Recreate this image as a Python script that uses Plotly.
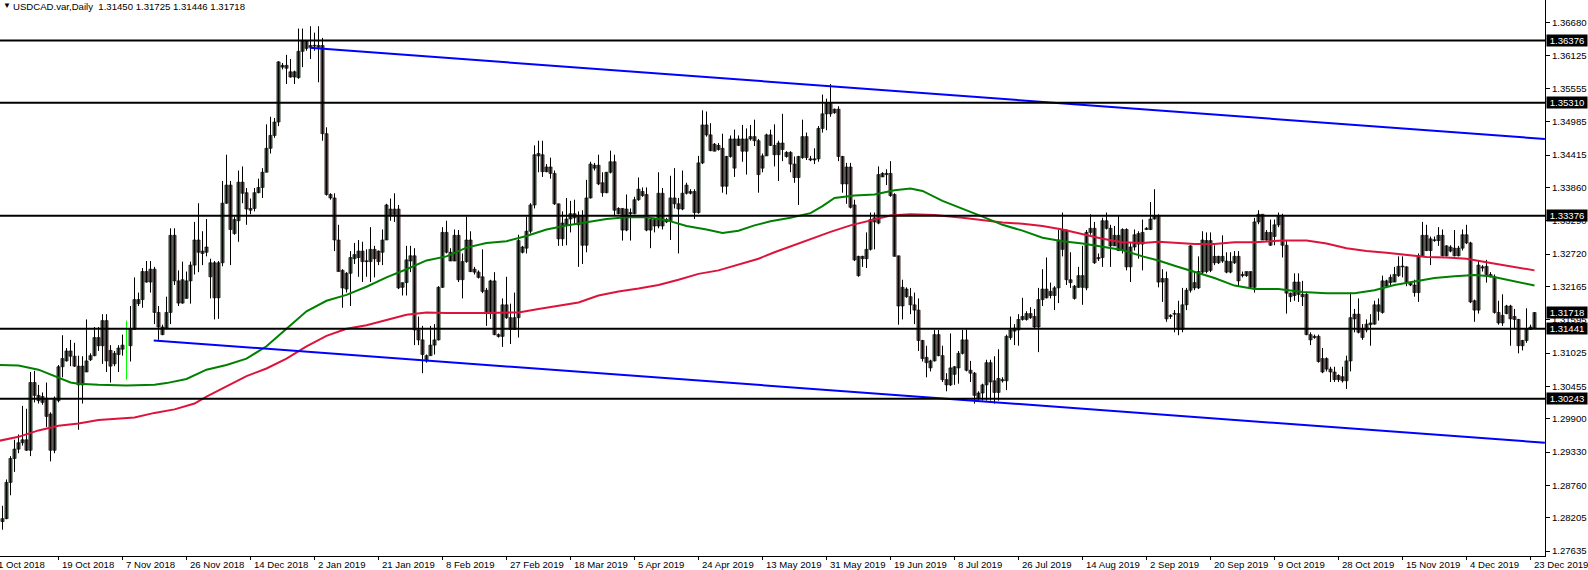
import plotly.graph_objects as go

# ---------------- data ----------------
symbol_title = "USDCAD.var,Daily  1.31450 1.31725 1.31446 1.31718"

date_labels = ["1 Oct 2018", "19 Oct 2018", "7 Nov 2018", "26 Nov 2018", "14 Dec 2018",
               "2 Jan 2019", "21 Jan 2019", "8 Feb 2019", "27 Feb 2019", "18 Mar 2019",
               "5 Apr 2019", "24 Apr 2019", "13 May 2019", "31 May 2019", "19 Jun 2019",
               "8 Jul 2019", "26 Jul 2019", "14 Aug 2019", "2 Sep 2019", "20 Sep 2019",
               "9 Oct 2019", "28 Oct 2019", "15 Nov 2019", "4 Dec 2019", "23 Dec 2019"]
bars_per_label = 16

open_ = [1.2814, 1.2819, 1.2881, 1.2922, 1.2938, 1.2949, 1.2954, 1.2936, 1.3052, 1.3030,
 1.3018, 1.3025, 1.2998, 1.2936, 1.3021, 1.3079, 1.3089, 1.3106, 1.3097, 1.3080,
 1.3048, 1.3070, 1.3091, 1.3098, 1.3129, 1.3115, 1.3158, 1.3107, 1.3084, 1.3100,
 1.3109, 1.3116, 1.3115, 1.3143, 1.3187, 1.3194, 1.3242, 1.3224, 1.3246, 1.3172,
 1.3134, 1.3145, 1.3172, 1.3304, 1.3226, 1.3188, 1.3196, 1.3226, 1.3253, 1.3296,
 1.3277, 1.3275, 1.3233, 1.3257, 1.3197, 1.3257, 1.3359, 1.3390, 1.3307, 1.3329,
 1.3395, 1.3377, 1.3350, 1.3350, 1.3377, 1.3386, 1.3412, 1.3453, 1.3475, 1.3498,
 1.3592, 1.3595, 1.3584, 1.3575, 1.3574, 1.3619, 1.3637, 1.3626, 1.3628, 1.3629,
 1.3629, 1.3478, 1.3374, 1.3368, 1.3296, 1.3244, 1.3212, 1.3239, 1.3264, 1.3266,
 1.3277, 1.3259, 1.3259, 1.3280, 1.3277, 1.3275, 1.3296, 1.3349, 1.3349, 1.3349,
 1.3215, 1.3223, 1.3260, 1.3269, 1.3142, 1.3125, 1.3089, 1.3098, 1.3116, 1.3125,
 1.3215, 1.3309, 1.3275, 1.3260, 1.3304, 1.3228, 1.3259, 1.3296, 1.3246, 1.3241,
 1.3233, 1.3210, 1.3170, 1.3226, 1.3134, 1.3131, 1.3185, 1.3163, 1.3143, 1.3163,
 1.3275, 1.3282, 1.3311, 1.3356, 1.3444, 1.3442, 1.3413, 1.3421, 1.3410, 1.3358,
 1.3298, 1.3322, 1.3332, 1.3341, 1.3338, 1.3338, 1.3287, 1.3368, 1.3419, 1.3424,
 1.3394, 1.3377, 1.3412, 1.3430, 1.3341, 1.3350, 1.3313, 1.3341, 1.3341, 1.3365,
 1.3379, 1.3374, 1.3313, 1.3331, 1.3320, 1.3376, 1.3327, 1.3329, 1.3368, 1.3358,
 1.3349, 1.3376, 1.3376, 1.3379, 1.3343, 1.3428, 1.3493, 1.3476, 1.3448, 1.3458,
 1.3453, 1.3388, 1.3439, 1.3469, 1.3458, 1.3469, 1.3448, 1.3473, 1.3473, 1.3466,
 1.3419, 1.3440, 1.3476, 1.3458, 1.3442, 1.3462, 1.3439, 1.3446, 1.3426, 1.3403,
 1.3437, 1.3473, 1.3433, 1.3433, 1.3435, 1.3487, 1.3512, 1.3530, 1.3514, 1.3520,
 1.3439, 1.3392, 1.3421, 1.3356, 1.3235, 1.3268, 1.3264, 1.3280, 1.3327, 1.3325,
 1.3404, 1.3408, 1.3410, 1.3374, 1.3269, 1.3183, 1.3212, 1.3199, 1.3185, 1.3176,
 1.3124, 1.3095, 1.3077, 1.3089, 1.3134, 1.3098, 1.3057, 1.3048, 1.3066, 1.3077,
 1.3102, 1.3125, 1.3073, 1.3068, 1.3025, 1.3034, 1.3048, 1.3086, 1.3055, 1.3035,
 1.3055, 1.3055, 1.3129, 1.3140, 1.3142, 1.3160, 1.3160, 1.3170, 1.3165, 1.3147,
 1.3194, 1.3212, 1.3201, 1.3201, 1.3214, 1.3280, 1.3313, 1.3228, 1.3196, 1.3215,
 1.3215, 1.3214, 1.3309, 1.3316, 1.3264, 1.3266, 1.3329, 1.3316, 1.3286, 1.3304,
 1.3278, 1.3314, 1.3250, 1.3284, 1.3307, 1.3289, 1.3314, 1.3314, 1.3332, 1.3338,
 1.3224, 1.3230, 1.3165, 1.3170, 1.3170, 1.3143, 1.3185, 1.3210, 1.3214, 1.3214,
 1.3241, 1.3242, 1.3295, 1.3268, 1.3257, 1.3260, 1.3260, 1.3241, 1.3257, 1.3268,
 1.3235, 1.3235, 1.3242, 1.3215, 1.3327, 1.3340, 1.3296, 1.3309, 1.3302, 1.3322,
 1.3336, 1.3287, 1.3205, 1.3201, 1.3224, 1.3203, 1.3203, 1.3134, 1.3129, 1.3131,
 1.3093, 1.3093, 1.3075, 1.3070, 1.3064, 1.3062, 1.3055, 1.3089, 1.3169, 1.3169,
 1.3143, 1.3142, 1.3151, 1.3152, 1.3174, 1.3172, 1.3217, 1.3223, 1.3224, 1.3235,
 1.3251, 1.3250, 1.3223, 1.3219, 1.3206, 1.3269, 1.3304, 1.3278, 1.3295, 1.3295,
 1.3304, 1.3269, 1.3284, 1.3282, 1.3269, 1.3282, 1.3305, 1.3291, 1.3192, 1.3176,
 1.3248, 1.3251, 1.3237, 1.3233, 1.3172, 1.3154, 1.3170, 1.3183, 1.3165, 1.3160,
 1.3115, 1.3124, 1.3143, 1.31450]

high = [1.2841, 1.2886, 1.2926, 1.2954, 1.2963, 1.3012, 1.3007, 1.3070, 1.3072, 1.3048,
 1.3035, 1.3052, 1.3001, 1.3028, 1.3082, 1.3133, 1.3111, 1.3125, 1.3120, 1.3098,
 1.3097, 1.3160, 1.3102, 1.3147, 1.3147, 1.3169, 1.3169, 1.3116, 1.3106, 1.3116,
 1.3134, 1.3158, 1.3183, 1.3232, 1.3206, 1.3248, 1.3260, 1.3260, 1.3250, 1.3183,
 1.3151, 1.3199, 1.3316, 1.3316, 1.3244, 1.3259, 1.3242, 1.3259, 1.3327, 1.3359,
 1.3311, 1.3332, 1.3264, 1.3260, 1.3260, 1.3397, 1.3442, 1.3397, 1.3336, 1.3415,
 1.3422, 1.3385, 1.3367, 1.3385, 1.3401, 1.3419, 1.3494, 1.3507, 1.3505, 1.3602,
 1.3599, 1.3613, 1.3606, 1.3586, 1.3658, 1.3658, 1.3638, 1.3662, 1.3651, 1.3662,
 1.3642, 1.3489, 1.3376, 1.3376, 1.3322, 1.3246, 1.3241, 1.3277, 1.3291, 1.3296,
 1.3293, 1.3280, 1.3318, 1.3286, 1.3278, 1.3314, 1.3358, 1.3367, 1.3376, 1.3356,
 1.3223, 1.3286, 1.3286, 1.3282, 1.3165, 1.3149, 1.3100, 1.3149, 1.3152, 1.3217,
 1.3318, 1.3329, 1.3282, 1.3314, 1.3313, 1.3273, 1.3336, 1.3311, 1.3250, 1.3244,
 1.3280, 1.3214, 1.3228, 1.3241, 1.3136, 1.3196, 1.3233, 1.3187, 1.3206, 1.3305,
 1.3286, 1.3336, 1.3359, 1.3458, 1.3466, 1.3466, 1.3426, 1.3437, 1.3415, 1.3358,
 1.3345, 1.3368, 1.3363, 1.3365, 1.3345, 1.3347, 1.3399, 1.3430, 1.3428, 1.3442,
 1.3412, 1.3412, 1.3449, 1.3442, 1.3352, 1.3350, 1.3374, 1.3350, 1.3370, 1.3403,
 1.3386, 1.3386, 1.3332, 1.3334, 1.3412, 1.3385, 1.3334, 1.3406, 1.3419, 1.3368,
 1.3415, 1.3394, 1.3383, 1.3383, 1.3440, 1.3518, 1.3516, 1.3496, 1.3462, 1.3462,
 1.3478, 1.3440, 1.3475, 1.3485, 1.3475, 1.3493, 1.3487, 1.3493, 1.3502, 1.3469,
 1.3444, 1.3478, 1.3485, 1.3494, 1.3466, 1.3512, 1.3448, 1.3448, 1.3439, 1.3440,
 1.3502, 1.3480, 1.3440, 1.3453, 1.3491, 1.3545, 1.3538, 1.3563, 1.3521, 1.3525,
 1.3440, 1.3428, 1.3428, 1.3365, 1.3269, 1.3269, 1.3309, 1.3343, 1.3343, 1.3422,
 1.3412, 1.3417, 1.3431, 1.3376, 1.3269, 1.3228, 1.3215, 1.3214, 1.3206, 1.3196,
 1.3125, 1.3115, 1.3091, 1.3142, 1.3142, 1.3115, 1.3068, 1.3136, 1.3080, 1.3106,
 1.3142, 1.3143, 1.3089, 1.3070, 1.3037, 1.3050, 1.3091, 1.3091, 1.3097, 1.3109,
 1.3061, 1.3134, 1.3165, 1.3152, 1.3169, 1.3197, 1.3174, 1.3181, 1.3178, 1.3214,
 1.3246, 1.3266, 1.3223, 1.3217, 1.3314, 1.3343, 1.3314, 1.3275, 1.3219, 1.3250,
 1.3286, 1.3313, 1.3340, 1.3327, 1.3273, 1.3334, 1.3343, 1.3322, 1.3320, 1.3338,
 1.3316, 1.3316, 1.3291, 1.3314, 1.3311, 1.3331, 1.3318, 1.3361, 1.3383, 1.3340,
 1.3246, 1.3242, 1.3169, 1.3176, 1.3192, 1.3214, 1.3214, 1.3287, 1.3242, 1.3268,
 1.3311, 1.3309, 1.3309, 1.3287, 1.3269, 1.3304, 1.3275, 1.3275, 1.3277, 1.3277,
 1.3242, 1.3242, 1.3242, 1.3334, 1.3347, 1.3340, 1.3313, 1.3331, 1.3331, 1.3343,
 1.3341, 1.3296, 1.3206, 1.3239, 1.3239, 1.3226, 1.3206, 1.3138, 1.3134, 1.3134,
 1.3111, 1.3095, 1.3079, 1.3079, 1.3066, 1.3079, 1.3098, 1.3206, 1.3178, 1.3196,
 1.3152, 1.3160, 1.3169, 1.3192, 1.3196, 1.3235, 1.3228, 1.3237, 1.3250, 1.3268,
 1.3268, 1.3251, 1.3224, 1.3228, 1.3273, 1.3327, 1.3322, 1.3302, 1.3302, 1.3318,
 1.3314, 1.3287, 1.3287, 1.3313, 1.3286, 1.3314, 1.3322, 1.3293, 1.3194, 1.3260,
 1.3253, 1.3262, 1.3241, 1.3237, 1.3192, 1.3203, 1.3185, 1.3185, 1.3178, 1.3161,
 1.3125, 1.3179, 1.3151, 1.31725]

low = [1.2800, 1.2818, 1.2859, 1.2899, 1.2931, 1.2944, 1.2935, 1.2926, 1.3018, 1.3016,
 1.3014, 1.2976, 1.2917, 1.2931, 1.3018, 1.3061, 1.3088, 1.3080, 1.3079, 1.2971,
 1.3016, 1.3070, 1.3089, 1.3097, 1.3106, 1.3084, 1.3070, 1.3052, 1.3080, 1.3070,
 1.3098, 1.3057, 1.3088, 1.3142, 1.3183, 1.3180, 1.3223, 1.3206, 1.3152, 1.3125,
 1.3133, 1.3143, 1.3152, 1.3219, 1.3183, 1.3187, 1.3196, 1.3187, 1.3237, 1.3241,
 1.3253, 1.3268, 1.3196, 1.3160, 1.3161, 1.3251, 1.3358, 1.3253, 1.3305, 1.3293,
 1.3359, 1.3322, 1.3340, 1.3345, 1.3376, 1.3368, 1.3412, 1.3444, 1.3471, 1.3491,
 1.3588, 1.3563, 1.3574, 1.3563, 1.3572, 1.3592, 1.3620, 1.3606, 1.3620, 1.3566,
 1.3466, 1.3372, 1.3365, 1.3277, 1.3242, 1.3180, 1.3206, 1.3183, 1.3255, 1.3233,
 1.3224, 1.3233, 1.3224, 1.3232, 1.3253, 1.3253, 1.3296, 1.3329, 1.3327, 1.3212,
 1.3201, 1.3201, 1.3241, 1.3116, 1.3116, 1.3068, 1.3086, 1.3098, 1.3100, 1.3124,
 1.3214, 1.3273, 1.3260, 1.3260, 1.3224, 1.3196, 1.3257, 1.3241, 1.3237, 1.3230,
 1.3205, 1.3149, 1.3161, 1.3133, 1.3129, 1.3113, 1.3161, 1.3118, 1.3142, 1.3129,
 1.3273, 1.3273, 1.3307, 1.3350, 1.3412, 1.3404, 1.3412, 1.3401, 1.3356, 1.3286,
 1.3286, 1.3287, 1.3309, 1.3322, 1.3250, 1.3255, 1.3275, 1.3367, 1.3415, 1.3390,
 1.3370, 1.3376, 1.3410, 1.3338, 1.3340, 1.3295, 1.3311, 1.3295, 1.3340, 1.3363,
 1.3370, 1.3311, 1.3282, 1.3309, 1.3316, 1.3314, 1.3325, 1.3296, 1.3350, 1.3273,
 1.3347, 1.3374, 1.3374, 1.3332, 1.3341, 1.3426, 1.3473, 1.3448, 1.3448, 1.3449,
 1.3377, 1.3374, 1.3437, 1.3404, 1.3457, 1.3430, 1.3408, 1.3466, 1.3457, 1.3377,
 1.3412, 1.3440, 1.3457, 1.3422, 1.3397, 1.3431, 1.3437, 1.3412, 1.3394, 1.3356,
 1.3435, 1.3433, 1.3431, 1.3426, 1.3430, 1.3480, 1.3484, 1.3507, 1.3512, 1.3431,
 1.3377, 1.3358, 1.3350, 1.3260, 1.3233, 1.3250, 1.3248, 1.3278, 1.3280, 1.3323,
 1.3404, 1.3390, 1.3370, 1.3268, 1.3151, 1.3160, 1.3197, 1.3169, 1.3152, 1.3106,
 1.3088, 1.3061, 1.3071, 1.3088, 1.3097, 1.3053, 1.3037, 1.3046, 1.3048, 1.3050,
 1.3100, 1.3071, 1.3053, 1.3016, 1.3021, 1.3021, 1.3021, 1.3021, 1.3016, 1.3021,
 1.3052, 1.3039, 1.3125, 1.3116, 1.3115, 1.3158, 1.3158, 1.3161, 1.3145, 1.3104,
 1.3183, 1.3196, 1.3196, 1.3176, 1.3188, 1.3268, 1.3219, 1.3214, 1.3194, 1.3214,
 1.3185, 1.3210, 1.3305, 1.3255, 1.3260, 1.3250, 1.3314, 1.3250, 1.3286, 1.3277,
 1.3273, 1.3244, 1.3224, 1.3278, 1.3264, 1.3244, 1.3313, 1.3313, 1.3331, 1.3215,
 1.3190, 1.3156, 1.3161, 1.3138, 1.3133, 1.3138, 1.3176, 1.3206, 1.3210, 1.3212,
 1.3237, 1.3239, 1.3241, 1.3253, 1.3255, 1.3257, 1.3239, 1.3239, 1.3255, 1.3217,
 1.3232, 1.3233, 1.3214, 1.3206, 1.3323, 1.3296, 1.3295, 1.3286, 1.3287, 1.3318,
 1.3266, 1.3170, 1.3190, 1.3192, 1.3190, 1.3183, 1.3133, 1.3116, 1.3127, 1.3086,
 1.3068, 1.3071, 1.3053, 1.3053, 1.3053, 1.3052, 1.3041, 1.3071, 1.3138, 1.3136,
 1.3125, 1.3138, 1.3115, 1.3151, 1.3158, 1.3170, 1.3215, 1.3217, 1.3224, 1.3233,
 1.3232, 1.3217, 1.3217, 1.3199, 1.3190, 1.3268, 1.3277, 1.3253, 1.3293, 1.3286,
 1.3268, 1.3268, 1.3275, 1.3268, 1.3268, 1.3278, 1.3289, 1.3188, 1.3156, 1.3170,
 1.3242, 1.3223, 1.3232, 1.3170, 1.3151, 1.3149, 1.3169, 1.3115, 1.3143, 1.3102,
 1.3107, 1.3120, 1.3142, 1.31446]

close = [1.2819, 1.2881, 1.2922, 1.2938, 1.2949, 1.2954, 1.2936, 1.3052, 1.3030, 1.3021,
 1.3028, 1.2994, 1.2936, 1.3025, 1.3079, 1.3093, 1.3106, 1.3097, 1.3080, 1.3048,
 1.3080, 1.3089, 1.3098, 1.3129, 1.3115, 1.3158, 1.3089, 1.3080, 1.3102, 1.3111,
 1.3116, 1.3116, 1.3143, 1.3194, 1.3194, 1.3242, 1.3224, 1.3246, 1.3172, 1.3147,
 1.3147, 1.3172, 1.3304, 1.3226, 1.3188, 1.3228, 1.3226, 1.3253, 1.3296, 1.3275,
 1.3273, 1.3284, 1.3257, 1.3197, 1.3257, 1.3359, 1.3390, 1.3314, 1.3331, 1.3395,
 1.3376, 1.3349, 1.3347, 1.3377, 1.3386, 1.3412, 1.3453, 1.3475, 1.3498, 1.3601,
 1.3595, 1.3590, 1.3575, 1.3584, 1.3619, 1.3637, 1.3624, 1.3629, 1.3629, 1.3626,
 1.3478, 1.3374, 1.3368, 1.3296, 1.3242, 1.3214, 1.3239, 1.3266, 1.3271, 1.3277,
 1.3259, 1.3260, 1.3280, 1.3264, 1.3259, 1.3296, 1.3356, 1.3338, 1.3340, 1.3214,
 1.3223, 1.3262, 1.3269, 1.3142, 1.3125, 1.3100, 1.3098, 1.3116, 1.3125, 1.3215,
 1.3309, 1.3275, 1.3260, 1.3304, 1.3228, 1.3259, 1.3296, 1.3242, 1.3241, 1.3232,
 1.3208, 1.3170, 1.3226, 1.3134, 1.3131, 1.3185, 1.3163, 1.3143, 1.3163, 1.3295,
 1.3284, 1.3311, 1.3356, 1.3442, 1.3440, 1.3413, 1.3421, 1.3410, 1.3358, 1.3298,
 1.3325, 1.3332, 1.3341, 1.3334, 1.3322, 1.3287, 1.3368, 1.3426, 1.3424, 1.3392,
 1.3377, 1.3412, 1.3430, 1.3347, 1.3350, 1.3313, 1.3349, 1.3343, 1.3365, 1.3383,
 1.3372, 1.3313, 1.3331, 1.3320, 1.3376, 1.3320, 1.3331, 1.3368, 1.3358, 1.3349,
 1.3376, 1.3390, 1.3379, 1.3343, 1.3428, 1.3493, 1.3476, 1.3449, 1.3460, 1.3451,
 1.3388, 1.3439, 1.3469, 1.3419, 1.3469, 1.3448, 1.3469, 1.3469, 1.3466, 1.3408,
 1.3440, 1.3476, 1.3458, 1.3442, 1.3462, 1.3451, 1.3446, 1.3426, 1.3403, 1.3439,
 1.3473, 1.3437, 1.3435, 1.3435, 1.3487, 1.3512, 1.3530, 1.3512, 1.3520, 1.3439,
 1.3392, 1.3421, 1.3352, 1.3262, 1.3268, 1.3264, 1.3280, 1.3331, 1.3334, 1.3408,
 1.3410, 1.3410, 1.3372, 1.3268, 1.3183, 1.3215, 1.3199, 1.3185, 1.3176, 1.3124,
 1.3093, 1.3086, 1.3089, 1.3134, 1.3098, 1.3057, 1.3048, 1.3077, 1.3079, 1.3102,
 1.3125, 1.3073, 1.3068, 1.3030, 1.3034, 1.3048, 1.3086, 1.3053, 1.3035, 1.3059,
 1.3057, 1.3131, 1.3142, 1.3145, 1.3160, 1.3165, 1.3170, 1.3163, 1.3147, 1.3194,
 1.3212, 1.3197, 1.3208, 1.3214, 1.3296, 1.3313, 1.3228, 1.3223, 1.3217, 1.3235,
 1.3235, 1.3309, 1.3316, 1.3257, 1.3266, 1.3329, 1.3316, 1.3286, 1.3304, 1.3278,
 1.3314, 1.3250, 1.3284, 1.3305, 1.3289, 1.3309, 1.3316, 1.3332, 1.3338, 1.3224,
 1.3230, 1.3161, 1.3167, 1.3169, 1.3143, 1.3185, 1.3210, 1.3286, 1.3223, 1.3242,
 1.3296, 1.3295, 1.3244, 1.3257, 1.3268, 1.3268, 1.3241, 1.3259, 1.3268, 1.3226,
 1.3237, 1.3242, 1.3215, 1.3327, 1.3340, 1.3296, 1.3309, 1.3287, 1.3322, 1.3336,
 1.3287, 1.3205, 1.3199, 1.3224, 1.3203, 1.3199, 1.3134, 1.3125, 1.3131, 1.3088,
 1.3070, 1.3075, 1.3070, 1.3057, 1.3057, 1.3055, 1.3089, 1.3163, 1.3161, 1.3138,
 1.3129, 1.3152, 1.3154, 1.3185, 1.3185, 1.3226, 1.3226, 1.3232, 1.3237, 1.3251,
 1.3250, 1.3223, 1.3219, 1.3206, 1.3269, 1.3304, 1.3278, 1.3298, 1.3296, 1.3304,
 1.3269, 1.3286, 1.3277, 1.3269, 1.3282, 1.3305, 1.3291, 1.3190, 1.3176, 1.3253,
 1.3250, 1.3237, 1.3233, 1.3172, 1.3154, 1.3167, 1.3183, 1.3161, 1.3160, 1.3115,
 1.3124, 1.3143, 1.3147, 1.31718]

# moving averages (bar index, value)
ma_green_x = [-1, 4, 9, 14, 17, 19, 24, 31, 38, 41, 46, 51, 56, 61, 66, 71, 76, 81, 86, 91,
              96, 101, 106, 111, 116, 121, 126, 131, 136, 141, 146, 151, 156, 161, 166, 171, 176, 180, 184, 188,
              192, 197, 202, 205, 208, 213, 218, 223, 227, 230, 235, 240, 245, 250, 255, 260, 265, 270, 275, 280,
              285, 289, 293, 298, 303, 308, 313, 319, 325, 331, 338, 343, 348, 353, 358, 363, 368, 372, 376, 380, 383]
ma_green_y = [1.3082, 1.3081, 1.3074, 1.3060, 1.3052, 1.3050, 1.3048, 1.3047, 1.3048, 1.3051,
              1.3058, 1.3074, 1.3082, 1.3093, 1.3114, 1.3144, 1.3174, 1.3192, 1.3202, 1.3216,
              1.3232, 1.3246, 1.3261, 1.3268, 1.3283, 1.3291, 1.3294, 1.3303, 1.3314, 1.3321,
              1.3326, 1.3332, 1.3335, 1.3335, 1.3330, 1.3320, 1.3314, 1.3308, 1.3312, 1.3321,
              1.3328, 1.3334, 1.3342, 1.3354, 1.3368, 1.3372, 1.3374, 1.3381, 1.3384, 1.3380,
              1.3363, 1.3350, 1.3336, 1.3322, 1.3312, 1.3300, 1.3294, 1.3290, 1.3284, 1.3279,
              1.3268, 1.3261, 1.3252, 1.3241, 1.3231, 1.3218, 1.3212, 1.3212, 1.3207, 1.3205,
              1.3205, 1.3210, 1.3219, 1.3225, 1.3231, 1.3234, 1.3236, 1.3234, 1.3228, 1.3222, 1.3218]

ma_red_x = [-1, 4, 9, 14, 19, 24, 33, 38, 43, 48, 51, 56, 61, 66, 71, 76, 81, 86, 91, 96,
            101, 106, 111, 121, 129, 134, 139, 144, 149, 154, 159, 164, 169, 174, 179, 184, 189, 193, 197, 202,
            207, 212, 217, 222, 227, 233, 240, 245, 250, 255, 260, 265, 270, 275, 280, 285, 289, 293, 298, 303,
            308, 313, 320, 326, 331, 336, 341, 346, 351, 356, 361, 366, 371, 376, 383]
ma_red_y = [1.2952, 1.2959, 1.2970, 1.2978, 1.2982, 1.2988, 1.2992, 1.3000, 1.3006, 1.3016,
            1.3028, 1.3045, 1.3063, 1.3076, 1.3093, 1.3114, 1.3132, 1.3144, 1.3150, 1.3159,
            1.3168, 1.3172, 1.3171, 1.3171, 1.3172, 1.3178, 1.3183, 1.3189, 1.3201, 1.3208,
            1.3213, 1.3219, 1.3228, 1.3238, 1.3244, 1.3254, 1.3264, 1.3275, 1.3285, 1.3297,
            1.3310, 1.3321, 1.3330, 1.3338, 1.3340, 1.3339, 1.3334, 1.3330, 1.3326, 1.3324,
            1.3320, 1.3314, 1.3306, 1.3298, 1.3292, 1.3291, 1.3293, 1.3291, 1.3289, 1.3289,
            1.3292, 1.3292, 1.3295, 1.3295, 1.3290, 1.3282, 1.3277, 1.3274, 1.3270, 1.3267,
            1.3266, 1.3264, 1.3258, 1.3252, 1.3244]

# trend lines (bar index, price)
trend_upper_x = [76.8, 385.6]
trend_upper_y = [1.3625, 1.3469]
trend_lower_x = [37.8, 385.6]
trend_lower_y = [1.3124, 1.2949]

# horizontal levels and current price
levels = [1.36376, 1.35310, 1.33376, 1.31441, 1.30243]
last_price = 1.31718

price_ticks = [1.36680, 1.36125, 1.35555, 1.34985, 1.34415, 1.33860, 1.33290, 1.32720,
               1.32165, 1.31595, 1.31025, 1.30455, 1.29900, 1.29330, 1.28760, 1.28205, 1.27635]

# ---------------- styling ----------------
FONT = "Liberation Sans, Arial, sans-serif"
FS = 9.6
GREEN = "#0a8a0a"
RED = "#c8232c"
MA_GREEN = "#008000"
MA_RED = "#dc143c"
BLUE = "#0000ff"

n = min(len(open_), len(high), len(low), len(close))
idx = list(range(n))
up = [i for i in idx if close[i] > open_[i]]
dn = [i for i in idx if close[i] < open_[i]]
dj = [i for i in idx if close[i] == open_[i]]

MIN_BODY = 0.00014
BODY_W = 0.8

fig = go.Figure()

# wicks
wx, wy = [], []
for i in idx:
    if i in dj:
        continue
    wx += [i, i, None]
    wy += [low[i], high[i], None]
fig.add_trace(go.Scatter(x=wx, y=wy, mode="lines", line=dict(color="black", width=1),
                         hoverinfo="skip"))

# doji (drawn as lime lines)
djx, djy = [], []
for i in dj:
    djx += [i, i, None]
    djy += [low[i], high[i], None]
if djx:
    fig.add_trace(go.Scatter(x=djx, y=djy, mode="lines", line=dict(color="#00ff00", width=1),
                             hoverinfo="skip"))

# bodies
fig.add_trace(go.Bar(x=up, y=[max(close[i] - open_[i], MIN_BODY) for i in up],
                     base=[open_[i] for i in up], width=BODY_W,
                     marker=dict(color=GREEN, line=dict(color="black", width=0.6)),
                     hoverinfo="skip"))
fig.add_trace(go.Bar(x=dn, y=[max(open_[i] - close[i], MIN_BODY) for i in dn],
                     base=[close[i] for i in dn], width=BODY_W,
                     marker=dict(color=RED, line=dict(color="black", width=0.6)),
                     hoverinfo="skip"))

# moving averages
fig.add_trace(go.Scatter(x=ma_red_x, y=ma_red_y, mode="lines",
                         line=dict(color=MA_RED, width=2), hoverinfo="skip"))
fig.add_trace(go.Scatter(x=ma_green_x, y=ma_green_y, mode="lines",
                         line=dict(color=MA_GREEN, width=2), hoverinfo="skip"))

# trend lines
fig.add_trace(go.Scatter(x=trend_upper_x, y=trend_upper_y, mode="lines",
                         line=dict(color=BLUE, width=2), hoverinfo="skip"))
fig.add_trace(go.Scatter(x=trend_lower_x, y=trend_lower_y, mode="lines",
                         line=dict(color=BLUE, width=2), hoverinfo="skip"))

# horizontal levels
for lv in levels:
    fig.add_shape(type="line", xref="paper", x0=0, x1=1, yref="y", y0=lv, y1=lv,
                  line=dict(color="black", width=2), layer="above")

annotations = []
for lv in levels + [last_price]:
    annotations.append(dict(xref="paper", x=1, xanchor="left", xshift=1,
                            yref="y", y=lv, yanchor="middle",
                            text=f"{lv:.5f}", showarrow=False,
                            font=dict(family=FONT, size=FS, color="white"),
                            bgcolor="black", borderpad=0, width=40, height=11))

# title
annotations.append(dict(xref="paper", yref="paper", x=0, y=1, xanchor="left", yanchor="top",
                        xshift=1, yshift=1, text="▼", showarrow=False,
                        font=dict(family=FONT, size=8, color="black")))
annotations.append(dict(xref="paper", yref="paper", x=0, y=1, xanchor="left", yanchor="top",
                        xshift=11, yshift=1, text=symbol_title.replace("  ", "&nbsp;&nbsp;"),
                        showarrow=False, font=dict(family=FONT, size=FS, color="black")))

# date labels: start just right of each tick, directly under the axis
x_tickvals = [bars_per_label * k - 2 for k in range(len(date_labels))]
for k, (xv, txt) in enumerate(zip(x_tickvals, date_labels)):
    if xv < 0:
        # first label sits at the left edge and is partly cut off
        annotations.append(dict(xref="paper", yref="paper", x=0, y=0, xanchor="left",
                                yanchor="top", xshift=-4, yshift=-1, text=txt, showarrow=False,
                                font=dict(family=FONT, size=FS, color="black")))
    else:
        annotations.append(dict(xref="x", yref="paper", x=xv, y=0, xanchor="left",
                                yanchor="top", xshift=1, yshift=-1, text=txt, showarrow=False,
                                font=dict(family=FONT, size=FS, color="black")))

fig.update_layout(
    width=1588, height=570,
    margin=dict(l=0, r=43, t=0, b=14),
    paper_bgcolor="white", plot_bgcolor="white",
    showlegend=False, barmode="overlay", hovermode=False,
    annotations=annotations,
    font=dict(family=FONT, size=FS, color="black"),
    xaxis=dict(range=[-0.625, 385.625], showgrid=False, zeroline=False,
               showline=True, linecolor="black", linewidth=1,
               ticks="outside", ticklen=3, tickcolor="black", tickwidth=1,
               tickvals=x_tickvals, showticklabels=False, fixedrange=True),
    yaxis=dict(range=[1.27550, 1.37069], side="right", showgrid=False, zeroline=False,
               showline=True, linecolor="black", linewidth=1,
               ticks="outside", ticklen=4, tickcolor="black", tickwidth=1,
               tickvals=price_ticks, ticktext=[f"{v:.5f}" for v in price_ticks],
               tickfont=dict(family=FONT, size=FS, color="black"), fixedrange=True),
)

fig.write_html("out.html", config={"displayModeBar": False},
               post_script="document.body.style.margin='0';document.body.style.overflow='hidden';")
